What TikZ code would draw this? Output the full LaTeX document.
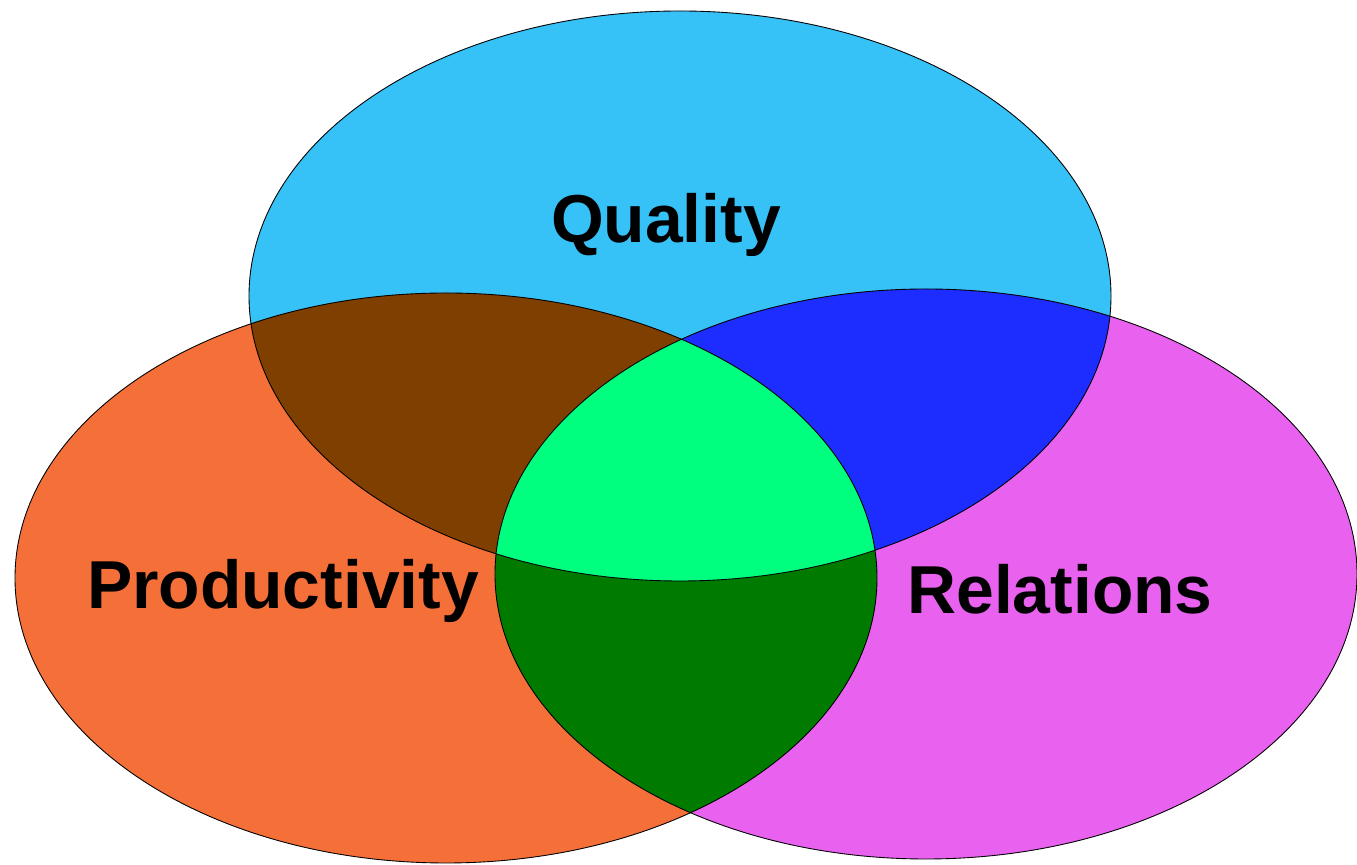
\documentclass[tikz,border=0pt]{standalone}
\usepackage{fontspec}
\setmainfont{Liberation Sans}
\usepackage{xcolor}
\usepackage{tikz}
\definecolor{qualblue}{HTML}{36C1F7}
\definecolor{prodorange}{HTML}{F57039}
\definecolor{relpink}{HTML}{E862EF}
\definecolor{qpbrown}{HTML}{7F3F00}
\definecolor{qrblue}{HTML}{1E2DFF}
\definecolor{prgreen}{HTML}{007B00}
\definecolor{allgreen}{HTML}{00FF7F}

% the three sets, same size, centres in pixel units
\newcommand{\qualset}{(qc) ellipse [x radius=431, y radius=285]}
\newcommand{\prodset}{(pc) ellipse [x radius=431, y radius=285]}
\newcommand{\relset}{(rc) ellipse [x radius=431, y radius=285]}

\begin{document}
\begin{tikzpicture}[
    x=0.02cm,y=0.02cm,
    setlabel/.style={anchor=base,inner sep=0pt,font=\fontsize{38.6}{46}\selectfont\bfseries},
    outline/.style={draw=black,line width=0.5pt}
  ]
    \useasboundingbox (0,0) rectangle (1357,865);
    \coordinate (qc) at (680,569);
    \coordinate (pc) at (446,287);
    \coordinate (rc) at (926,291);

    % single sets
    \fill[qualblue] \qualset;
    \fill[prodorange] \prodset;
    \fill[relpink] \relset;

    % pairwise overlaps
    \begin{scope}
      \clip \qualset;
      \fill[qpbrown] \prodset;
      \fill[qrblue] \relset;
    \end{scope}
    \begin{scope}
      \clip \prodset;
      \fill[prgreen] \relset;
    \end{scope}

    % all three
    \begin{scope}
      \clip \qualset;
      \clip \prodset;
      \fill[allgreen] \relset;
    \end{scope}

    \draw[outline] \qualset;
    \draw[outline] \prodset;
    \draw[outline] \relset;

    \node[setlabel] (quality) at (666,622) {Quality};
    \node[setlabel] (productivity) at (283,256) {Productivity};
    \node[setlabel] (relations) at (1060,251) {Relations};
  \end{tikzpicture}
\end{document}
